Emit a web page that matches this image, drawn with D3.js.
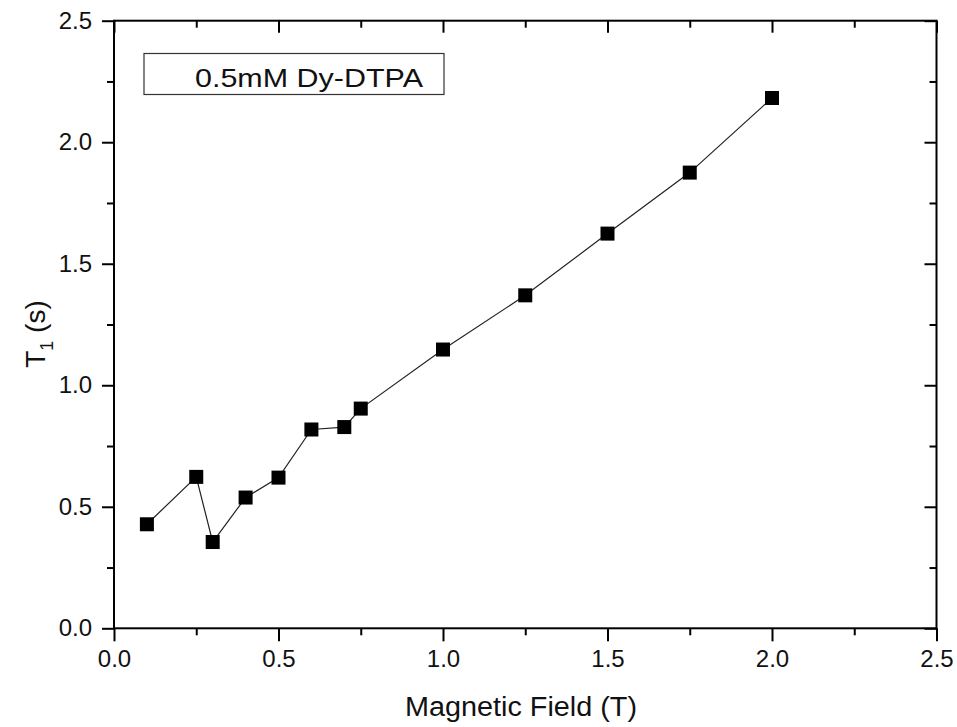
<!DOCTYPE html>
<html>
<head>
<meta charset="utf-8">
<script src="https://cdn.jsdelivr.net/npm/d3@7"></script>
<style>
html,body{margin:0;padding:0;background:#fff;}
svg{display:block;}
text{font-family:Arial,"Liberation Sans",sans-serif;fill:#111;}
</style>
</head>
<body>
<svg id="chart" width="957" height="727"></svg>
<script>
const fieldT = [0.1,0.25,0.3,0.4,0.5,0.6,0.7,0.75,1.0,1.25,1.5,1.75,2.0];
const t1Values = [0.428,0.623,0.355,0.538,0.620,0.818,0.828,0.904,1.147,1.370,1.624,1.875,2.182];
const xTicks = [0.0,0.5,1.0,1.5,2.0,2.5];
const yTicks = [0.0,0.5,1.0,1.5,2.0,2.5];
const xMinor = [0.25,0.75,1.25,1.75,2.25];
const yMinor = [0.25,0.75,1.25,1.75,2.25];
const legendLabel = "0.5mM Dy-DTPA";
const xTitle = "Magnetic Field (T)";

const svg = d3.select("#chart");
const L = 114, R = 936.5, T = 20.7, B = 628.3;
const x = d3.scaleLinear().domain([0,2.5]).range([L,R]);
const y = d3.scaleLinear().domain([0,2.5]).range([B,T]);
const fmt = d3.format(".1f");

svg.append("rect").attr("x",L).attr("y",T).attr("width",R-L).attr("height",B-T)
  .attr("fill","none").attr("stroke","#000").attr("stroke-width",2);

function styleAxis(g){
  g.select(".domain").remove();
  g.selectAll(".tick line").attr("stroke","#000").attr("stroke-width",2);
  g.selectAll(".tick text").attr("font-size",24).attr("fill","#111")
   .style("font-family","Arial, 'Liberation Sans', sans-serif");
}
svg.append("g").attr("transform",`translate(0,${B})`)
  .call(d3.axisBottom(x).tickValues(xTicks).tickFormat(fmt).tickSize(13).tickPadding(9))
  .call(styleAxis);
svg.append("g").attr("transform",`translate(0,${B})`)
  .call(d3.axisBottom(x).tickValues(xMinor).tickFormat("").tickSize(7))
  .call(styleAxis);
svg.append("g").attr("transform",`translate(${L},0)`)
  .call(d3.axisLeft(y).tickValues(yTicks).tickFormat(fmt).tickSize(12).tickPadding(10))
  .call(styleAxis);
svg.append("g").attr("transform",`translate(${L},0)`)
  .call(d3.axisLeft(y).tickValues(yMinor).tickFormat("").tickSize(7))
  .call(styleAxis);
svg.append("g").attr("transform",`translate(0,${T})`)
  .call(d3.axisBottom(x).tickValues(xTicks).tickFormat("").tickSize(12))
  .call(styleAxis);
svg.append("g").attr("transform",`translate(0,${T})`)
  .call(d3.axisBottom(x).tickValues(xMinor).tickFormat("").tickSize(7))
  .call(styleAxis);
svg.append("g").attr("transform",`translate(${R},0)`)
  .call(d3.axisLeft(y).tickValues(yTicks).tickFormat("").tickSize(12))
  .call(styleAxis);
svg.append("g").attr("transform",`translate(${R},0)`)
  .call(d3.axisLeft(y).tickValues(yMinor).tickFormat("").tickSize(7))
  .call(styleAxis);

const pts = fieldT.map((v,i)=>({x:v,y:t1Values[i]}));
svg.append("path").datum(pts)
  .attr("fill","none").attr("stroke","#222").attr("stroke-width",1.2)
  .attr("d", d3.line().x(d=>x(d.x)).y(d=>y(d.y)));
const s = 14;
svg.append("g").selectAll("rect").data(pts).join("rect")
  .attr("x",d=>x(d.x)-s/2).attr("y",d=>y(d.y)-s/2)
  .attr("width",s).attr("height",s).attr("fill","#000");

svg.append("rect").attr("x",144).attr("y",53.5).attr("width",300).attr("height",41)
  .attr("fill","#fff").attr("stroke","#333").attr("stroke-width",1.2);
svg.append("text").attr("x",195).attr("y",86.5).attr("font-size",26)
  .attr("textLength",228).attr("lengthAdjust","spacingAndGlyphs").text(legendLabel);

svg.append("text").attr("x",405).attr("y",716)
  .attr("font-size",27).attr("textLength",232).attr("lengthAdjust","spacingAndGlyphs").text(xTitle);
const yt = svg.append("text").attr("transform","translate(45,334) rotate(-90)")
  .attr("text-anchor","middle").attr("font-size",28);
yt.append("tspan").text("T");
yt.append("tspan").attr("font-size",18).attr("dy",8).text("1");
yt.append("tspan").attr("dy",-8).text(" (s)");
</script>
</body>
</html>
